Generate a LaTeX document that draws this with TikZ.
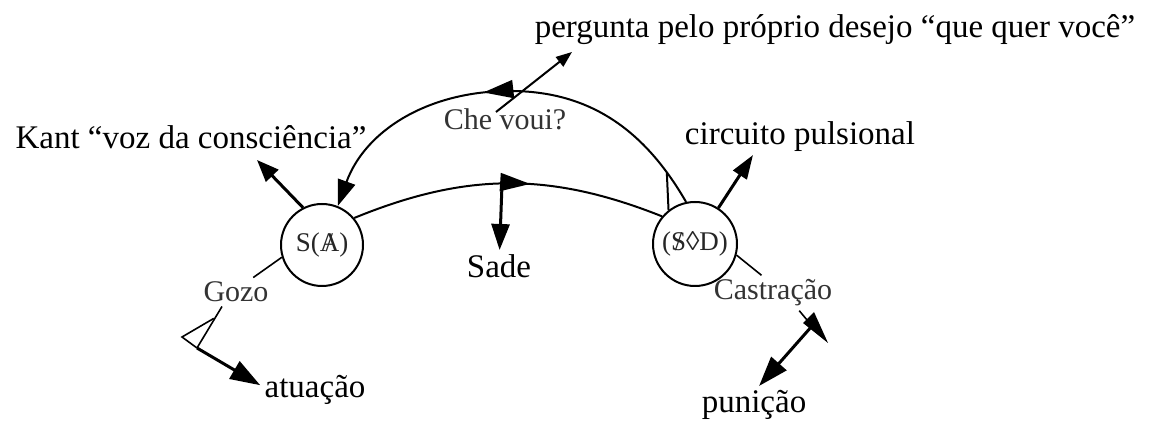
\documentclass[tikz,border=0pt]{standalone}
\usepackage{fontspec}
\setmainfont{Liberation Serif}
\usetikzlibrary{arrows.meta,decorations.markings}
\begin{document}
\begin{tikzpicture}[x=0.5pt,y=0.5pt,
  big/.style={font=\fontsize{16.5}{18}\selectfont, inner sep=2pt},
  small/.style={font=\fontsize{15}{17}\selectfont, text=black!80, inner sep=2pt},
  seta/.style={line width=1.5pt, -{Triangle[length=13pt,width=9pt]}},
  fio/.style={line width=0.8pt},
  arco/.style={line width=1pt},
  meio/.style={postaction={decorate}, decoration={markings,
    mark=at position #1 with {\arrow{Triangle[length=15pt,width=9pt]}}}}]
\useasboundingbox (0,0) rectangle (1152,-421);
\node[draw, circle, arco, minimum size=41pt, inner sep=0pt, font=\fontsize{13.5}{15}\selectfont, text=black!85] (1) at (322,-245) {S(\rlap{\kern0.22em/}A)};
\node[draw, circle, arco, minimum size=42pt, inner sep=0pt, font=\fontsize{13.5}{15}\selectfont, text=black!85] (2) at (695,-244) {(\rlap{\kern0.14em/}S◊D)};
\node[big] (3) at (191,-137) {Kant “voz da consciência”};
\node[big] (4) at (835,-30) {pergunta pelo próprio desejo “que quer você”};
\node[big] (5) at (800,-137) {circuito pulsional};
\node[small] (6) at (505,-119) {Che voui?};
\node[big] (7) at (499,-266) {Sade};
\node[small] (8) at (236,-292) {Gozo};
\node[small] (9) at (773,-293) {Castração};
\node[big] (10) at (315,-390) {atuação};
\node[big] (11) at (754,-405) {punição};
% arcos
\coordinate (p) at (510,-91);
\path[draw,arco] (2.102) to[out=120,in=0] coordinate[pos=0.15] (a) (p);
\path[draw,arco,meio=0.12,-{Triangle[length=13pt,width=9pt]}] (p) to[out=180,in=70] (1.68);
\path[draw,arco,meio=0.57] (1.40) to[bend left=22] coordinate[pos=0.48] (c) (2.140);
\path[draw,arco] (a) -- (2.128);
% setas
\coordinate (d) at (496,-112);
\coordinate (e) at (572,-52);
\coordinate (f) at (257,-160);
\coordinate (g) at (753,-155);
\path[draw,seta] (c) -- (7);
\path[draw,line width=1pt,-{Triangle[length=8pt,width=6pt]}] (d) -- (e);
\path[draw,seta,-{Triangle[length=11pt,width=8.5pt]}] (1.117) -- (f);
\path[draw,seta,-{Triangle[length=12pt,width=8pt]}] (2.57) -- (g);
% Gozo
\coordinate (h) at (197,-348);
\path[draw,fio] (1.197) -- (8.40);
\path[draw,fio] (8.226) -- (h);
\draw[fio] (h) -- (182,-337) -- (213.8,-318.4);
\path[draw,seta,-{Triangle[length=15pt,width=10pt]}] (h) -- (10.175);
% Castracao
\coordinate (i) at (812,-326);
\path[draw,fio] (2.-15) -- (9.123);
\path[draw,fio] (9.-34) -- (i);
\fill (803,-323) -- (814,-312) -- (828,-343) -- cycle;
\path[draw,seta,-{Triangle[length=15pt,width=10pt]}] (i) -- (11.75);
\end{tikzpicture}
\end{document}
